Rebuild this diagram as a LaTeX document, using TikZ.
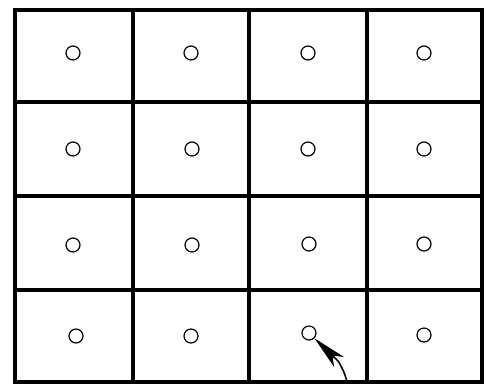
\documentclass[tikz,border=0pt]{standalone}
\usetikzlibrary{arrows.meta}
\tikzset{
  gridline/.style={line width=3.4pt, line cap=rect},
  circ/.style={circle, draw, line width=1.2pt, minimum size=14pt, inner sep=0pt},
  arr/.style={line width=1.6pt, -{Stealth[length=34pt, width=14pt, inset=9pt]}}
}
\begin{document}
\begin{tikzpicture}[x=1pt, y=-1pt]
\useasboundingbox (0,0) rectangle (484,384);
% grid
\foreach \y in {10,102,196,290,382} \draw[gridline] (15,\y) -- (482,\y);
\foreach \x in {15,133,249,367,482} \draw[gridline] (\x,10) -- (\x,382);
% circles
\node[circ] (c11) at (73,53) {};
\node[circ] (c12) at (191,53) {};
\node[circ] (c13) at (308,53) {};
\node[circ] (c14) at (424,53) {};
\node[circ] (c21) at (73,149) {};
\node[circ] (c22) at (192,149) {};
\node[circ] (c23) at (308,149) {};
\node[circ] (c24) at (424,149) {};
\node[circ] (c31) at (73,245) {};
\node[circ] (c32) at (192,245) {};
\node[circ] (c33) at (309,244) {};
\node[circ] (c34) at (424,244) {};
\node[circ] (c41) at (76,336) {};
\node[circ] (c42) at (191,336) {};
\node[circ] (c43) at (309,333) {};
\node[circ] (c44) at (424,335) {};
% arrow
\coordinate (tail) at (347,382);
\coordinate (bendpt) at (338,361);
\draw[arr] (tail) .. controls (345.5,375) and (342,367) .. (bendpt) -- (c43);
\end{tikzpicture}
\end{document}
